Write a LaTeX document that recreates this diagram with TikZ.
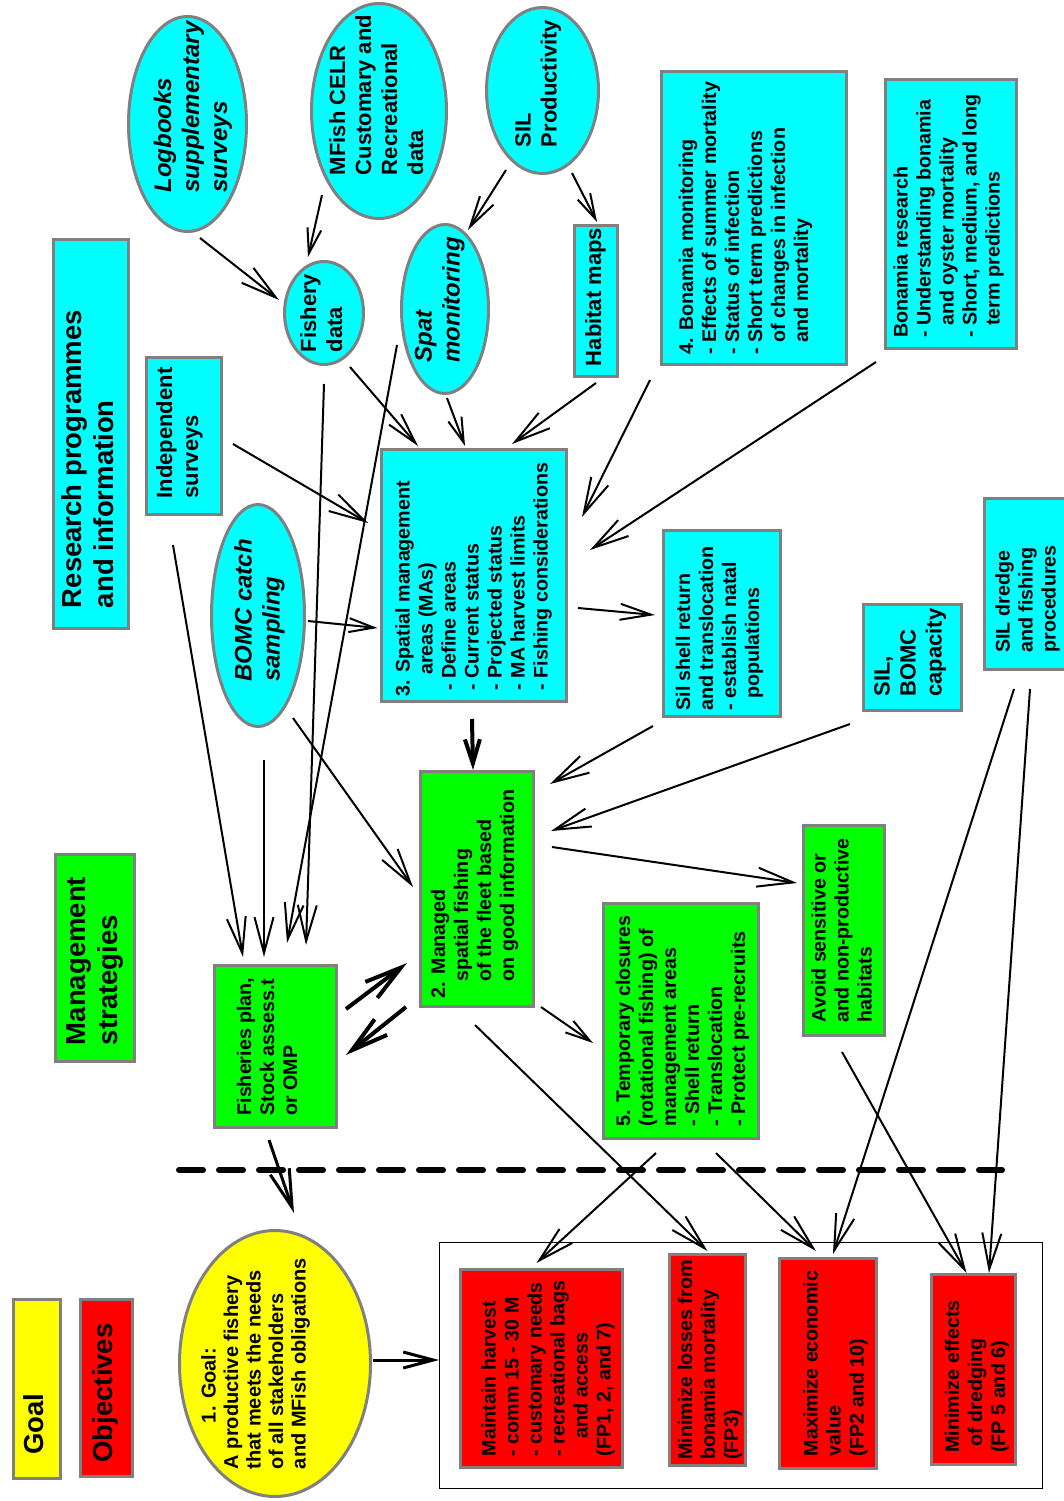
\documentclass[tikz,border=0pt]{standalone}
\usepackage{fontspec}
\setmainfont{Liberation Sans}
\usepackage{graphicx}
\usetikzlibrary{arrows.meta,calc,shapes.geometric}
\definecolor{cyn}{RGB}{0,255,255}
\definecolor{grn}{RGB}{0,255,0}
\definecolor{ylw}{RGB}{255,255,0}
\definecolor{rd}{RGB}{255,0,0}
\definecolor{bgr}{RGB}{128,128,128}
\newsavebox\tbox
% #1 shift right, #2 shift down (pt), #3 content (rotated 90)
\newcommand\ntx[3]{\sbox\tbox{\rotatebox{90}{#3}}\makebox[0pt][c]{\hspace*{#1pt}\hspace*{#1pt}\raisebox{\dimexpr-0.5\ht\tbox+0.5\dp\tbox-#2pt\relax}[0pt][0pt]{\usebox\tbox}}}
\newcommand\tabl[1]{\begin{tabular}{@{}l@{}}#1\end{tabular}}
\newcommand\fnA{\fontsize{19.7pt}{23pt}\selectfont\bfseries}
\newcommand\fnB{\fontsize{22pt}{26pt}\selectfont\bfseries}
\newcommand\fnI{\fontsize{24pt}{28pt}\selectfont\bfseries\itshape}
\newcommand\fnL{\fontsize{27.5pt}{32pt}\selectfont\bfseries}
\newcommand\fnG{\fontsize{20pt}{22.5pt}\selectfont\bfseries}
\begin{document}
\begin{tikzpicture}[x=1pt,y=-1pt,
  rbox/.style={rectangle, draw=bgr, line width=3pt, inner sep=0pt, outer sep=0pt},
  cy/.style={rbox, fill=cyn},
  gr/.style={rbox, fill=grn},
  ye/.style={rbox, fill=ylw},
  re/.style={rbox, fill=rd},
  ell/.style={ellipse, draw=bgr, line width=3pt, inner sep=0pt, outer sep=0pt},
  arr/.style={draw, line width=2pt, -{Straight Barb[length=36pt,width=19pt]}},
  marr/.style={draw, line width=2pt, -{Straight Barb[length=31pt,width=16pt]}},
  sarr/.style={draw, line width=2pt, -{Straight Barb[length=25pt,width=14pt]}},
  tarr/.style={draw, line width=4pt, -{Straight Barb[length=37pt,width=20pt]}},
  garr/.style={draw, line width=3pt, -{Straight Barb[length=38pt,width=20pt]}},
  oarr/.style={draw, line width=3pt, -{Straight Barb[length=30pt,width=16pt]}},
  darr/.style={draw, line width=4pt, -{Straight Barb[length=24pt,width=15pt]}},
  sep/.style={line width=6pt, dash pattern=on 24pt off 16pt, line cap=round}
]
\useasboundingbox (0,0) rectangle (1064,1501);
\clip (0,0) rectangle (1064,1501);

% ---- labels
\node[cy, minimum width=75pt, minimum height=389pt] (research) at (91,434)
  {\ntx{0}{25}{\fnL\tabl{Research programmes\\and information}}};
\node[gr, minimum width=79pt, minimum height=207pt] (mgmt) at (95,958)
  {\ntx{0}{3}{\fnL\tabl{Management\\strategies}}};
\node[ye, minimum width=47pt, minimum height=179pt] (goalbox) at (37,1389)
  {\ntx{0}{35}{\fnL\tabl{Goal}}};
\node[re, minimum width=52pt, minimum height=177pt] (objbox) at (106.5,1388)
  {\ntx{0}{5}{\fnL\tabl{Objectives}}};

% ---- research nodes
\node[ell, fill=cyn, minimum width=118pt, minimum height=215pt] (logb) at (187.5,124)
  {\ntx{6}{-17}{\fnI\tabl{Logbooks\\supplementary\\surveys}}};
\node[ell, fill=cyn, minimum width=135pt, minimum height=215pt] (mfish) at (379,111)
  {\ntx{0}{-16}{\fnB\tabl{MFish CELR\\Customary and\\Recreational\\data}}};
\node[ell, fill=cyn, minimum width=112pt, minimum height=166pt] (silprod) at (542.5,90.5)
  {\ntx{-4}{-7}{\fnB\tabl{SIL\\Productivity}}};
\node[ell, fill=cyn, minimum width=79pt, minimum height=103pt] (fishery) at (324,313)
  {\ntx{0}{0}{\fnB\tabl{Fishery\\data}}};
\node[ell, fill=cyn, minimum width=87pt, minimum height=169pt] (spat) at (445,309)
  {\ntx{-5}{-9}{\fnI\tabl{Spat\\monitoring}}};
\node[cy, minimum width=43pt, minimum height=151pt] (habitat) at (596,301)
  {\ntx{0}{-4}{\fnB\tabl{Habitat maps}}};
\node[cy, minimum width=75pt, minimum height=157pt] (indep) at (184,436)
  {\ntx{-4}{-3}{\fnB\tabl{Independent\\surveys}}};
\node[ell, fill=cyn, minimum width=93pt, minimum height=222pt] (bomc) at (258,615.5)
  {\ntx{2}{-5}{\fnI\tabl{BOMC catch\\sampling}}};
\node[cy, minimum width=185pt, minimum height=252pt] (spatial) at (474,575.5)
  {\ntx{0}{4}{\fnA\tabl{3. Spatial management\\\hspace*{1.1em}areas (MAs)\\\hspace*{0.3em}- Define areas\\\hspace*{0.3em}- Current status\\\hspace*{0.3em}- Projected status\\\hspace*{0.3em}- MA harvest limits\\\hspace*{0.3em}- Fishing considerations}}};
\node[cy, minimum width=185pt, minimum height=293pt] (bonmon) at (754,218)
  {\ntx{-8}{0}{\fnA\tabl{4. Bonamia monitoring\\- Effects of summer mortality\\- Status of infection\\- Short term predictions\\\hspace*{0.6em}of changes in infection\\\hspace*{0.6em}and mortality}}};
\node[cy, minimum width=131pt, minimum height=269pt] (bonres) at (951,214)
  {\ntx{-2}{2}{\fnA\tabl{Bonamia research\\- Understanding bonamia\\\hspace*{0.6em}and oyster mortality\\- Short, medium, and long\\\hspace*{0.6em}term predictions}}};
\node[cy, minimum width=117pt, minimum height=186pt] (silshell) at (722,623.5)
  {\ntx{-2}{5}{\fnA\tabl{Sil shell return\\and translocation\\- establish natal\\\hspace*{0.6em}populations}}};
\node[cy, minimum width=98pt, minimum height=106pt] (silbomc) at (912.5,657.5)
  {\ntx{-2}{-5}{\fnB\tabl{SIL,\\BOMC\\capacity}}};
\node[cy, minimum width=87pt, minimum height=171pt] (dredge) at (1028,584)
  {\ntx{0}{15}{\fnA\tabl{SIL dredge\\and fishing\\procedures}}};

% ---- strategies
\node[gr, minimum width=113pt, minimum height=235pt] (managed) at (477,889)
  {\ntx{-2}{5}{\fnA\tabl{2. Managed\\\hspace*{0.85em}spatial fishing\\\hspace*{0.85em}of the fleet based\\\hspace*{0.85em}on good information}}};
\node[gr, minimum width=122pt, minimum height=162pt] (fplan) at (275.5,1046.5)
  {\ntx{-6}{0}{\fnA\tabl{Fisheries plan,\\Stock assess.t\\or OMP}}};
\node[gr, minimum width=155pt, minimum height=235pt] (temp) at (681,1021)
  {\ntx{2}{0}{\fnA\tabl{5. Temporary closures\\(rotational fishing) of\\management areas\\- Shell return\\- Translocation\\- Protect pre-recruits}}};
\node[gr, minimum width=81pt, minimum height=210pt] (avoid) at (844,930.5)
  {\ntx{0}{0}{\fnA\tabl{Avoid sensitive or\\and non-productive\\habitats}}};

% ---- goal and objectives
\node[ell, fill=ylw, minimum width=191pt, minimum height=266pt] (goal) at (275,1363.5)
  {\ntx{-19}{0}{\fnG\tabl{\hspace*{2.3em}1. Goal:\\A productive fishery\\that meets the needs\\of all stakeholders\\and MFish obligations}}};
\node[rectangle, draw=black, line width=1.5pt, inner sep=0pt, minimum width=603pt, minimum height=246pt] (objframe) at (741,1365.5) {};
\node[re, minimum width=162pt, minimum height=198pt] (maintain) at (541.5,1368.5)
  {\ntx{7}{0}{\fnA\tabl{Maintain harvest\\- comm 15 - 30 M\\- customary needs\\- recreational bags\\\hspace*{0.9em}and access\\(FP1, 2, and 7)}}};
\node[re, minimum width=76pt, minimum height=211pt] (losses) at (707.5,1360)
  {\ntx{3}{0}{\fnA\tabl{Minimize losses from\\bonamia mortality\\(FP3)}}};
\node[re, minimum width=97pt, minimum height=210pt] (econ) at (828,1363.5)
  {\ntx{8}{0}{\fnA\tabl{Maximize economic\\value\\(FP2 and 10)}}};
\node[re, minimum width=84pt, minimum height=190pt] (effects) at (973.5,1369.5)
  {\ntx{4}{7}{\fnA\tabl{Minimize effects\\\hspace*{0.3em}of dredging\\(FP 5 and 6)}}};

% ---- separator
\draw[sep] (179,1170) -- (1002,1170);

% ---- connectors
\draw[arr]  ($(logb)+(12.5,114)$) -- ($(fishery)+(-45,-13)$);
\draw[sarr] ($(mfish)+(-57,84)$) -- ($(fishery)+(-16,-56)$);
\draw[marr] ($(silprod)+(-36.5,79.5)$) -- ($(spat)+(23,-79)$);
\draw[sarr] ($(silprod)+(29.5,82.5)$) -- ($(habitat)+(1,-79)$);
\draw[marr] ($(fishery)+(26,54)$) -- ($(spatial)+(-56,-129.5)$);
\draw[sarr] ($(spat)+(2,89)$) -- ($(spatial)+(-9,-129.5)$);
\draw[arr]  ($(habitat)+(0,82)$) -- ($(spatial)+(38,-131.5)$);
\draw[arr]  ($(bonmon)+(-104,162)$) -- ($(spatial)+(108,-58.5)$);
\draw[arr]  ($(bonres)+(-75,148)$) -- ($(spatial)+(116,-25.5)$);
\draw[arr]  ($(indep)+(49,8)$) -- ($(spatial)+(-106,-52.5)$);
\draw[sarr] ($(bomc)+(50,5.5)$) -- ($(spatial)+(-96.5,52.5)$);
\draw[marr] ($(spatial)+(104,32.5)$) -- ($(silshell)+(-67,-8.5)$);
\draw[darr] ($(spatial)+(-2,143.5)$) -- ($(managed)+(-4,-119)$);
\draw[arr]  ($(silshell)+(-69,102.5)$) -- ($(managed)+(73,-105)$);
\draw[arr]  ($(silbomc)+(-62.5,66.5)$) -- ($(managed)+(74,-58)$);
\draw[arr]  ($(managed)+(75,-42)$) -- ($(avoid)+(-47,-47.5)$);
\draw[arr]  ($(bomc)+(35,102.5)$) -- ($(managed)+(-64,-2)$);
\draw[arr]  ($(indep)+(-11,109)$) -- ($(fplan)+(-32.5,-89.5)$);
\draw[arr]  ($(bomc)+(6,144.5)$) -- ($(fplan)+(-11.5,-89.5)$);
\draw[arr]  ($(fishery)+(0,71)$) -- ($(fplan)+(30.5,-101.5)$);
\draw[arr]  ($(spat)+(-48,36)$) -- ($(fplan)+(11.5,-103.5)$);
\draw[tarr] ($(fplan)+(70.5,-37.5)$) -- ($(managed)+(-70,74)$);
\draw[tarr] ($(managed)+(-71,118)$) -- ($(fplan)+(70.5,8.5)$);
\draw[sarr] ($(managed)+(64,118)$) -- ($(temp)+(-88,22)$);
\draw[arr]  ($(managed)+(-2,136)$) -- ($(losses)+(0,-109)$);
\draw[arr]  ($(temp)+(-25,132)$) -- ($(maintain)+(-5,-105.5)$);
\draw[arr]  ($(temp)+(35,132)$) -- ($(econ)+(-12,-112.5)$);
\draw[arr]  ($(avoid)+(-2,121.5)$) -- ($(effects)+(-7,-96.5)$);
\draw[arr]  ($(dredge)+(-14,105)$) -- ($(econ)+(5,-109.5)$);
\draw[arr]  ($(dredge)+(2,105)$) -- ($(effects)+(15.5,-96.5)$);
\draw[garr] ($(fplan)+(-6.5,93.5)$) -- ($(goal)+(19,-150.5)$);
\draw[oarr] ($(goal)+(98,-3.5)$) -- ($(objframe)+(-302,-5.5)$);
\end{tikzpicture}
\end{document}
